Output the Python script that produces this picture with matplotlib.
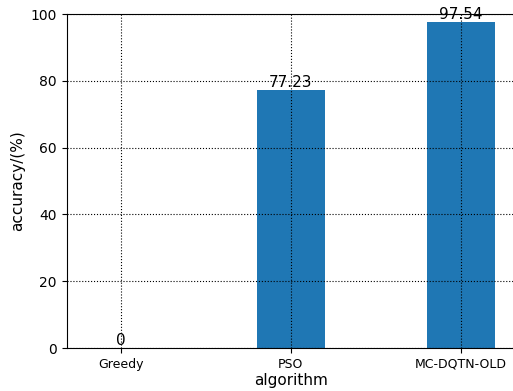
import matplotlib
matplotlib.use("Agg")
import matplotlib.pyplot as plt

algorithms = ["Greedy", "PSO", "MC-DQTN-OLD"]
accuracy = [0, 77.23, 97.54]


def main():
    fig = plt.figure(figsize=(5.13, 3.91), dpi=100)
    # right edge of the axes runs past the figure edge
    ax = fig.add_axes([66.5 / 513, 1 - 348 / 391, (515 - 66.5) / 513, (348 - 14) / 391])

    x = range(len(algorithms))
    bars = ax.bar(x, accuracy, width=0.4, color="#1f77b4")
    for rect, val in zip(bars, accuracy):
        ax.text(rect.get_x() + rect.get_width() / 2, rect.get_height(),
                f"{val:g}", ha="center", va="bottom", fontsize=11)

    ax.set_xticks(list(x))
    ax.set_xticklabels(algorithms, fontsize=9)
    ax.tick_params(axis="y", labelsize=10)
    ax.set_xlim([-0.32, 2.32])
    ax.set_ylim([0, 100])
    ax.spines["right"].set_visible(False)
    ax.set_xlabel("algorithm", fontsize=11, labelpad=2)
    ax.set_ylabel("accuracy/(%)", fontsize=11)
    ax.grid(linestyle=":", color="black", linewidth=0.8)
    fig.savefig("out.png", dpi=100)


if __name__ == "__main__":
    main()
